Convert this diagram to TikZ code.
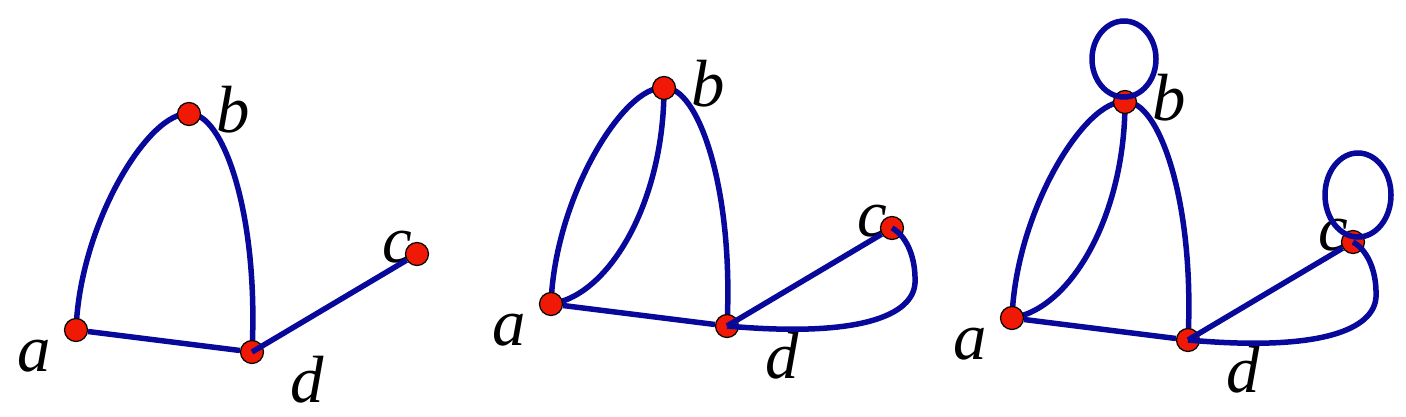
\documentclass[tikz,border=0pt]{standalone}
\usepackage{fontspec}
\setmainfont{Liberation Serif}
\definecolor{edgeblue}{RGB}{8,8,155}
\definecolor{dotred}{RGB}{240,25,5}
\pgfdeclarelayer{bg}
\pgfsetlayers{bg,main}
\tikzset{
  vertex/.style={circle, fill=dotred, draw=black, line width=0.7pt, minimum size=0.46cm, inner sep=0pt},
  lbl/.style={font=\fontsize{38}{40}\selectfont\itshape, inner sep=0pt},
  link/.style={line width=0.11cm, draw=edgeblue}
}
\begin{document}
\begin{tikzpicture}[x=0.02cm, y=-0.02cm]
  \useasboundingbox (0,0) rectangle (1406,416);

  % Grafo simple
  \begin{scope}
    \node[vertex] (a1) at (76,330) {};
    \node[vertex] (b1) at (189,114) {};
    \node[vertex] (c1) at (417,254) {};
    \node[vertex] (d1) at (252,352) {};
    \node[lbl] (la1) at (34,356) {a};
    \node[lbl] (lb1) at (233,110) {b};
    \node[lbl] (lc1) at (397,247) {c};
    \node[lbl] (ld1) at (307,380) {d};
    \begin{pgfonlayer}{bg}
      \draw[link] (a1.center) .. controls +(4,-108) and +(-39,-4) .. (b1.center);
      \draw[link] (b1.center) .. controls +(33,-3) and +(7,-140) .. (d1.center);
      \draw[link] (a1) -- (d1);
    \end{pgfonlayer}
    \draw[link] (d1.center) -- (c1);
  \end{scope}

  % Multigrafo
  \begin{scope}[shift={(475,-26)}]
    \node[vertex] (a2) at (76,330) {};
    \node[vertex] (b2) at (189,114) {};
    \node[vertex] (c2) at (417,254) {};
    \node[vertex] (d2) at (252,352) {};
    \node[lbl] (la2) at (34,356) {a};
    \node[lbl] (lb2) at (233,110) {b};
    \node[lbl] (lc2) at (397,247) {c};
    \node[lbl] (ld2) at (307,382) {d};
    \begin{pgfonlayer}{bg}
      \draw[link] (a2.center) .. controls +(4,-108) and +(-39,-4) .. (b2.center);
      \draw[link] (a2.center) .. controls +(59,-9) and +(0,113) .. (b2.center);
      \draw[link] (b2.center) .. controls +(33,-3) and +(7,-140) .. (d2.center);
      \draw[link] (a2) -- (d2);
    \end{pgfonlayer}
    \draw[link] (d2.center) -- (c2);
    \draw[link] (c2.center) .. controls +(13,7) and +(1,-28) .. ++(23,55)
      .. controls +(-2,32) and +(134,12) .. (d2.center);
  \end{scope}

  % Pseudografo
  \begin{scope}[shift={(936,-12)}]
    \node[vertex] (a3) at (76,330) {};
    \node[vertex] (b3) at (189,114) {};
    \node[vertex] (c3) at (417,254) {};
    \node[vertex] (d3) at (252,352) {};
    \node[lbl] (la3) at (34,356) {a};
    \node[lbl] (lb3) at (233,110) {b};
    \node[lbl] (lc3) at (397,247) {c};
    \node[lbl] (ld3) at (307,382) {d};
    \begin{pgfonlayer}{bg}
      \draw[link] (a3.center) .. controls +(4,-108) and +(-39,-4) .. (b3.center);
      \draw[link] (a3.center) .. controls +(59,-9) and +(0,113) .. (b3.center);
      \draw[link] (b3.center) .. controls +(33,-3) and +(7,-140) .. (d3.center);
      \draw[link] (a3) -- (d3);
    \end{pgfonlayer}
    \draw[link] (d3.center) -- (c3);
    \draw[link] (c3.center) .. controls +(13,7) and +(1,-28) .. ++(23,55)
      .. controls +(-2,32) and +(134,12) .. (d3.center);
    % Lazos
    \draw[link] (b3.center) ++(-1,-43) ellipse [x radius=32, y radius=38];
    \draw[link] (c3.center) ++(5,-47) ellipse [x radius=33, y radius=42];
  \end{scope}
\end{tikzpicture}
\end{document}
